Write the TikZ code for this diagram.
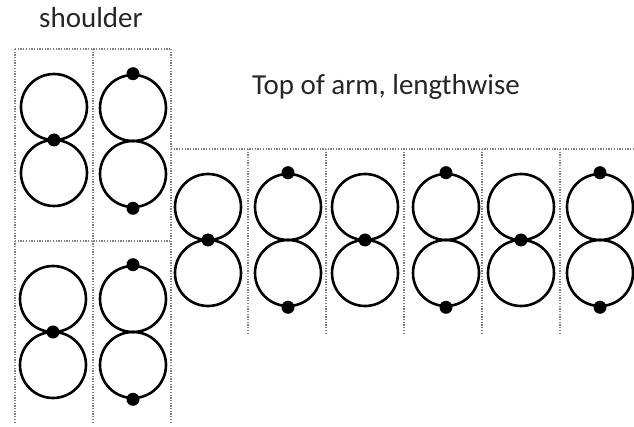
\documentclass[tikz,border=0pt]{standalone}
\usepackage{fontspec}
\setmainfont{Carlito}
\tikzset{
  ring/.style={circle, draw=black, line width=2.6pt, minimum size=66pt, inner sep=0pt},
  bead/.style={circle, fill=black, minimum size=13pt, inner sep=0pt},
  gridline/.style={draw=black!50, line width=1.3pt, dash pattern=on 1.3pt off 1.4pt},
  caption/.style={font=\fontsize{29}{34}\selectfont, text=black!85, inner sep=0pt}
}
% a figure eight of two touching rings; #4 = 1 puts one bead at the waist,
% #4 = 2 puts beads at the top and bottom
\newcommand{\eightfig}[4]{%
  \node[ring] (#1up) at (#2,#3-33) {};
  \node[ring] (#1dn) at (#2,#3+33) {};
  \ifnum#4=1
    \node[bead] (#1mid) at (#2,#3) {};
  \else
    \node[bead] (#1top) at (#1up.north) {};
    \node[bead] (#1bot) at (#1dn.south) {};
  \fi
}
\begin{document}
\begin{tikzpicture}[x=1pt,y=-1pt]
\useasboundingbox (0,0) rectangle (634,427);

% grid of the shoulder panel
\path[gridline] (15,49) -- (171,49);
\path[gridline] (15,241) -- (171,241);
\path[gridline] (15,49) -- (15,423);
\path[gridline] (93,49) -- (93,423);
\path[gridline] (171,49) -- (171,423);

% grid of the arm panel
\path[gridline] (171,149) -- (634,149);
\foreach \gx in {248,326,404,482,560}
  \path[gridline] (\gx,149) -- (\gx,333);

% captions
\node[caption] (shoulderlbl) at (91,18) {shoulder};
\node[caption] (armlbl) at (386,87) {Top of arm, lengthwise};

% shoulder figures
\eightfig{sa}{54}{140}{1}
\eightfig{sb}{133}{141}{2}
\eightfig{sc}{53}{332}{1}
\eightfig{sd}{133}{332}{2}

% arm figures
\eightfig{aa}{208}{240}{1}
\eightfig{ab}{288}{240}{2}
\eightfig{ac}{365}{240}{1}
\eightfig{ad}{446}{240}{2}
\eightfig{ae}{521}{240}{1}
\eightfig{af}{600}{240}{2}
\end{tikzpicture}
\end{document}
